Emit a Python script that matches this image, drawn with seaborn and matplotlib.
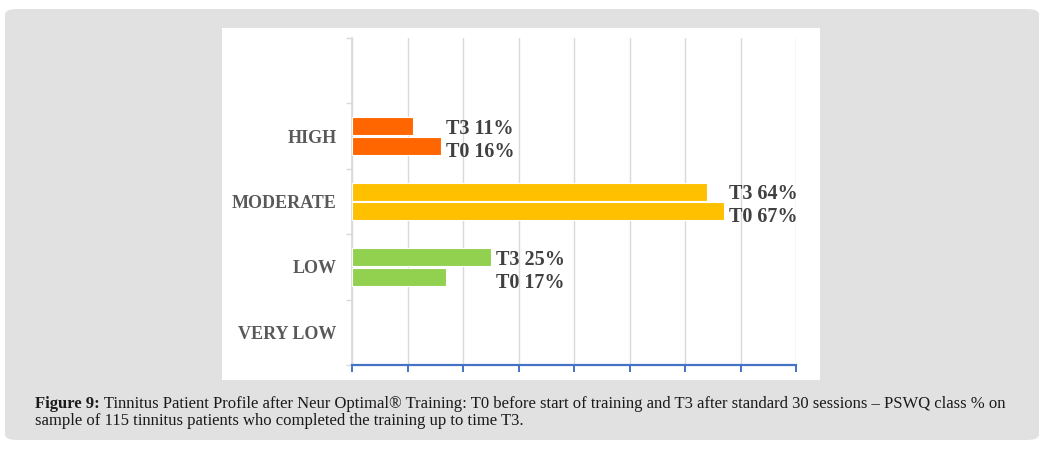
import numpy as np
import pandas as pd
import matplotlib
matplotlib.use('Agg')
import matplotlib.pyplot as plt
from matplotlib.patches import FancyBboxPatch, Rectangle
import seaborn as sns

# ── data ────────────────────────────────────────────────────────────────
levels   = ['HIGH', 'MODERATE', 'LOW', 'VERY LOW']
t3_pct   = [11, 64, 25, 0]
t0_pct   = [16, 67, 17, 0]
colors   = ['#FF6600', '#FFC000', '#92D050', '#FFFFFF']
caption1 = (" Tinnitus Patient Profile after Neur Optimal\u00ae Training: T0 before start of training "
            "and T3 after standard 30 sessions \u2013 PSWQ class % on")
caption2 = "sample of 115 tinnitus patients who completed the training up to time T3."

df = pd.DataFrame({
    'level': levels * 2,
    'pct':   t3_pct + t0_pct,
    'time':  ['T3'] * len(levels) + ['T0'] * len(levels),
})

sns.set_theme(style='white')
plt.rcParams['font.family'] = ['Liberation Serif', 'DejaVu Serif']

W, H = 1048, 449
fig = plt.figure(figsize=(W / 100, H / 100), dpi=100)
fig.patch.set_facecolor('white')

# grey rounded card + white chart panel
card = FancyBboxPatch((5 / W, 9 / H), 1034 / W, 431 / H,
                      boxstyle='round,pad=0,rounding_size=0.012',
                      transform=fig.transFigure, facecolor='#e1e1e1',
                      edgecolor='none', zorder=0)
fig.patches.append(card)
panel = Rectangle((222 / W, 1 - 380 / H), 598 / W, 352 / H,
                  transform=fig.transFigure, facecolor='white',
                  edgecolor='none', zorder=1)
fig.patches.append(panel)

ax = fig.add_axes([352 / W, 1 - 365 / H, 444 / W, 327 / H])
ax.set_facecolor('none')
ax.set_zorder(2)

sns.barplot(data=df, y='level', x='pct', hue='time', hue_order=['T3', 'T0'],
            order=levels, orient='h', width=0.6, gap=0.1, legend=False,
            ax=ax, edgecolor='white', linewidth=0.8, zorder=3)

# colour bars by level, not by series
n = len(levels)
for i, p in enumerate(ax.patches[:2 * n]):
    p.set_facecolor(colors[i % n])
    if p.get_width() == 0:
        p.set_visible(False)

ax.set_xlim(0, 80)
ax.set_ylim(len(levels) - 0.5, -1.5)
ax.set_xticks(np.arange(0, 81, 10))
ax.set_xticklabels([])
ax.grid(axis='x', color='#d9d9d9', linewidth=1.0, zorder=0)
ax.grid(axis='y', visible=False)
ax.set_axisbelow(True)
ax.set_xlabel('')
ax.set_ylabel('')

for s in ('top', 'right'):
    ax.spines[s].set_visible(False)
ax.spines['left'].set_color('#d9d9d9')
ax.spines['bottom'].set_color('#4472C4')
ax.spines['bottom'].set_linewidth(1.6)
ax.tick_params(axis='x', which='major', bottom=True, direction='out',
               length=5, width=1.4, color='#4472C4')
ax.tick_params(axis='y', which='major', left=False, pad=5,
               labelsize=13, labelcolor='#595959')
for lab in ax.get_yticklabels():
    lab.set_fontweight('bold')
ax.set_yticks(np.arange(-1.5, len(levels), 1.0), minor=True)
ax.tick_params(axis='y', which='minor', left=True, direction='out',
               length=4, width=1, color='#d9d9d9')

# data labels right of the longer bar
for i, lvl in enumerate(levels):
    if t3_pct[i] == 0 and t0_pct[i] == 0:
        continue
    xl = max(t3_pct[i], t0_pct[i]) + 0.9
    ax.text(xl, i - 0.11, f'T3 {t3_pct[i]}%', va='center', ha='left',
            fontsize=14.5, fontweight='bold', color='#404040')
    ax.text(xl, i + 0.24, f'T0 {t0_pct[i]}%', va='center', ha='left',
            fontsize=14.5, fontweight='bold', color='#404040')

# caption
renderer = fig.canvas.get_renderer()
cx, cy1, cy2 = 35 / W, 1 - 408 / H, 1 - 425 / H
t_bold = fig.text(cx, cy1, 'Figure 9:', fontsize=12, fontweight='bold',
                  color='#1a1a1a', va='baseline')
bb = t_bold.get_window_extent(renderer)
fig.text(bb.x1 / W, cy1, caption1, fontsize=12, color='#1a1a1a', va='baseline')
fig.text(cx, cy2, caption2, fontsize=12, color='#1a1a1a', va='baseline')

fig.savefig('out.png', dpi=100)
